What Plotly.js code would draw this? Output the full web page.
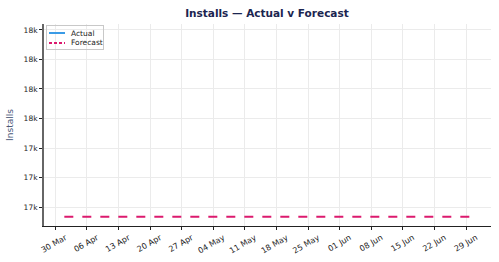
<!DOCTYPE html>
<html><head><meta charset="utf-8">
<script src="https://cdn.plot.ly/plotly-3.0.1.min.js"></script>
<style>html,body{margin:0;padding:0;background:#fff;}#c{width:499px;height:262px;}</style>
</head><body><div id="c"></div>
<script>
const forecastDates = ["2020-04-01","2020-04-08","2020-04-15","2020-04-22","2020-04-29","2020-05-06","2020-05-13","2020-05-20","2020-05-27","2020-06-03","2020-06-10","2020-06-17","2020-06-24","2020-06-30"];
const forecastValues = [17167,17167,17167,17167,17167,17167,17167,17167,17167,17167,17167,17167,17167,17167];
const actualDates = ["2020-04-01","2020-06-30"];
const actualValues = [null,null];
const yTickVals = [17200,17300,17400,17500,17600,17700,17800];
const yTickText = ["17k","17k","17k","18k","18k","18k","18k"];
const xTickVals = ["2020-03-30","2020-04-06","2020-04-13","2020-04-20","2020-04-27","2020-05-04","2020-05-11","2020-05-18","2020-05-25","2020-06-01","2020-06-08","2020-06-15","2020-06-22","2020-06-29"];
const seriesNames = ["Actual","Forecast"];
const seriesColors = ["#3a9be6","#dc1a6e"];

const traces = [
  {x: actualDates, y: actualValues, name: seriesNames[0], mode: "lines", type: "scatter",
   line: {color: seriesColors[0], width: 2}},
  {x: forecastDates, y: forecastValues, name: seriesNames[1], mode: "lines", type: "scatter",
   line: {color: seriesColors[1], width: 2, dash: "dash"}}
];

// manual compact legend samples (pixel-sized, anchored to the plot's top-left corner)
const shapes = [
  {type: "line", xref: "paper", yref: "paper", xsizemode: "pixel", ysizemode: "pixel",
   xanchor: 0, yanchor: 1, x0: 5, x1: 21, y0: -9, y1: -9,
   line: {color: seriesColors[0], width: 2}},
  {type: "line", xref: "paper", yref: "paper", xsizemode: "pixel", ysizemode: "pixel",
   xanchor: 0, yanchor: 1, x0: 5, x1: 21, y0: -19, y1: -19,
   line: {color: seriesColors[1], width: 2, dash: "3px,2px"}}
];
const annotations = [
  {text: " ", xref: "paper", yref: "paper", x: 0.0045, y: 0.995, xanchor: "left", yanchor: "top",
   showarrow: false, width: 56, height: 23, borderpad: 0, borderwidth: 1, bordercolor: "#c8c8c8",
   bgcolor: "rgba(0,0,0,0)", font: {size: 8}},
  {text: seriesNames[0], xref: "paper", yref: "paper", x: 0.056, y: 0.955, xanchor: "left", yanchor: "middle",
   showarrow: false, font: {size: 7.5, color: "#222"}},
  {text: seriesNames[1], xref: "paper", yref: "paper", x: 0.056, y: 0.906, xanchor: "left", yanchor: "middle",
   showarrow: false, font: {size: 7.5, color: "#222"}}
];

const layout = {
  width: 499, height: 262,
  margin: {l: 44, r: 8, t: 24, b: 36},
  paper_bgcolor: "#fff", plot_bgcolor: "#fff",
  showlegend: false,
  font: {family: "DejaVu Sans", size: 7.5, color: "#222"},
  title: {text: "<b>Installs — Actual v Forecast</b>", x: 0.535, xanchor: "center", y: 0.95, yanchor: "middle",
          font: {family: "DejaVu Sans", size: 10.5, color: "#1b2550"}},
  xaxis: {type: "date", range: ["2020-03-27T12:00", "2020-07-04T12:00"],
          tickvals: xTickVals, tickformat: "%d %b", tickangle: -30, ticklabelshift: 10,
          showgrid: true, gridcolor: "#ebebeb", gridwidth: 1,
          showline: true, linecolor: "#222", linewidth: 1,
          ticks: "outside", ticklen: 3, tickcolor: "#222", zeroline: false,
          tickfont: {size: 8, color: "#222"}},
  yaxis: {range: [17136, 17820], tickvals: yTickVals, ticktext: yTickText,
          showgrid: true, gridcolor: "#ebebeb", gridwidth: 1,
          showline: true, linecolor: "#666", linewidth: 2,
          ticks: "outside", ticklen: 3, tickcolor: "#222", zeroline: false,
          tickfont: {size: 7.5, color: "#222"},
          title: {text: "Installs", standoff: 8, font: {size: 9, color: "#4a5878"}}},
  shapes: shapes,
  annotations: annotations
};
Plotly.newPlot("c", traces, layout, {displayModeBar: false, staticPlot: true});
</script>
</body></html>
